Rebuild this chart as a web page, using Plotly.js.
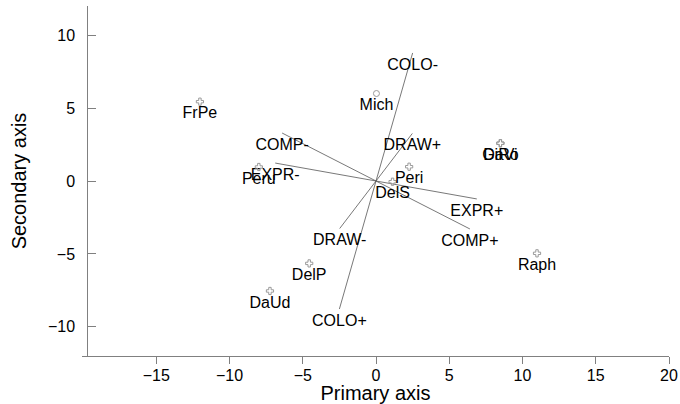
<!DOCTYPE html>
<html>
<head>
<meta charset="utf-8">
<script src="https://cdn.plot.ly/plotly-3.0.1.min.js"></script>
<style>
  html, body { margin: 0; padding: 0; background: #fff; }
  #chart { width: 680px; height: 404px; }
</style>
</head>
<body>
<div id="chart"></div>
<script>
// Painter scores on the first two axes
const painters  = ['DaUd', 'DaVi', 'DelP', 'DelS', 'FrPe', 'GiRo', 'Mich', 'Peri', 'Peru', 'Raph'];
const primary   = [-7.24, 8.49, -4.56, 1.13, -12.02, 8.49, 0.03, 2.26, -8.0, 10.99];
const secondary = [-7.54, 2.59, -5.65, -0.05, 5.44, 2.59, 6.0, 0.98, 0.96, -4.96];
const symbols   = ['cross-open', 'cross-open', 'cross-open', 'cross-open', 'cross-open',
                   'cross-open', 'circle-open', 'cross-open', 'cross-open', 'cross-open'];

// Doubled variables (positive / negative poles)
const variables    = ['COMP+', 'COMP-', 'DRAW+', 'DRAW-', 'COLO+', 'COLO-', 'EXPR+', 'EXPR-'];
const varPrimary   = [6.41, -6.41, 2.48, -2.48, -2.5, 2.5, 6.88, -6.88];
const varSecondary = [-3.29, 3.29, 3.26, -3.26, -8.78, 8.78, -1.23, 1.23];

// Axis ticks
const xTicks = [-15, -10, -5, 0, 5, 10, 15, 20];
const yTicks = [-10, -5, 0, 5, 10];

const FONT = 'Liberation Sans, Arial, Helvetica, sans-serif';

// Segments from the origin to each variable pole
const segX = [], segY = [];
variables.forEach((v, i) => {
  segX.push(0, varPrimary[i], null);
  segY.push(0, varSecondary[i], null);
});

const traces = [
  {
    x: segX, y: segY, mode: 'lines', type: 'scatter',
    line: { color: '#555555', width: 0.8 },
    hoverinfo: 'skip', showlegend: false
  },
  {
    x: varPrimary, y: varSecondary, text: variables,
    mode: 'markers+text', type: 'scatter',
    marker: { size: 6, color: 'rgba(0,0,0,0)' },
    textposition: 'bottom center',
    textfont: { family: FONT, size: 16, color: '#000' },
    showlegend: false
  },
  {
    x: primary, y: secondary, text: painters,
    mode: 'markers+text', type: 'scatter',
    marker: { size: 6, symbol: symbols, color: '#9a9a9a', line: { color: '#9a9a9a', width: 1 } },
    textposition: 'bottom center',
    textfont: { family: FONT, size: 16, color: '#000' },
    showlegend: false
  }
];

const axisCommon = {
  showgrid: false, zeroline: false,
  showline: true, linecolor: '#808080', linewidth: 1,
  tickcolor: '#808080', tickwidth: 1,
  tickfont: { family: FONT, size: 16, color: '#000' }
};

const layout = {
  width: 680, height: 404,
  margin: { l: 82, r: 11, t: 6, b: 48 },
  paper_bgcolor: '#fff', plot_bgcolor: '#fff',
  font: { family: FONT, color: '#000' },
  xaxis: Object.assign({}, axisCommon, {
    range: [-20.07, 20],
    tickmode: 'array', tickvals: xTicks,
    ticks: 'outside', ticklen: 7,
    ticklabelstandoff: -2,
    title: { text: 'Primary axis', font: { family: FONT, size: 20, color: '#000' }, standoff: 1 }
  }),
  yaxis: Object.assign({}, axisCommon, {
    range: [-12, 12],
    anchor: 'free', position: 0.009,
    tickmode: 'array', tickvals: yTicks,
    ticks: 'inside', ticklen: 8,
    ticklabelstandoff: 9,
    title: { text: 'Secondary axis', font: { family: FONT, size: 20, color: '#000' }, standoff: 14 }
  }),
  showlegend: false
};

Plotly.newPlot('chart', traces, layout, { displayModeBar: false, staticPlot: true });
</script>
</body>
</html>
